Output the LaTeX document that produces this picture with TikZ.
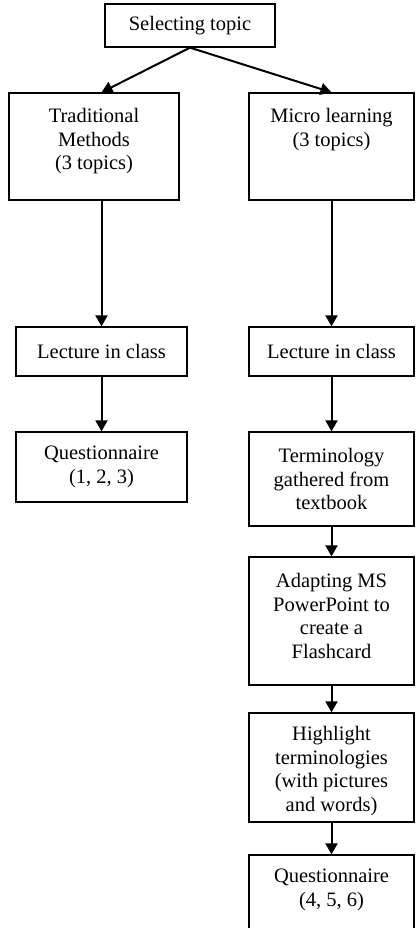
\documentclass[tikz,border=0pt]{standalone}
\usepackage{fontspec}
\setmainfont{Liberation Serif}
\usetikzlibrary{arrows.meta,calc}
\begin{document}
\begin{tikzpicture}[x=1pt,y=-1pt,
  box/.style={draw,line width=1.3pt,inner sep=0pt,align=center,
    font=\fontsize{20.5}{23.6}\selectfont},
  txt/.style={inner sep=0pt,align=center,anchor=north,
    font=\fontsize{20.5}{23.6}\selectfont},
  arr/.style={line width=2pt,-{Triangle[length=11pt,width=12pt]}}]
\fill[white] (0,0) rectangle (415,928);
\useasboundingbox (0,0) rectangle (415,928);
\clip (0,0) rectangle (415,928);
% boxes
\node[box,minimum width=170pt,minimum height=43pt] (sel) at (190,25.5) {Selecting topic};
\node[box,minimum width=170pt,minimum height=107pt] (trad) at (94,146.5) {};
\node[txt] (tradt) at (94,108) {Traditional\\Methods\\(3 topics)};
\node[box,minimum width=165pt,minimum height=107pt] (micro) at (331.5,146.5) {};
\node[txt] (microt) at (331.5,108) {Micro learning\\(3 topics)};
\node[box,minimum width=171pt,minimum height=49pt] (lectL) at (101.5,351.5) {Lecture in class};
\node[box,minimum width=165pt,minimum height=49pt] (lectR) at (331.5,351.5) {Lecture in class};
\node[box,minimum width=171pt,minimum height=70pt] (qL) at (101.5,467) {Questionnaire\\(1, 2, 3)};
\node[box,minimum width=165pt,minimum height=94pt] (term) at (331.5,479) {Terminology\\gathered from\\textbook};
\node[box,minimum width=165pt,minimum height=128pt] (adapt) at (331.5,621) {};
\node[txt] (adaptt) at (331.5,573) {Adapting MS\\PowerPoint to\\create a\\Flashcard};
\node[box,minimum width=165pt,minimum height=109pt] (high) at (331.5,767.5) {};
\node[txt] (hight) at (331.5,726) {Highlight\\terminologies\\(with pictures\\and words)};
\node[box,minimum width=165pt,minimum height=85pt] (qR) at (331.5,897.5) {};
\node[txt] (qRt) at (331.5,869) {Questionnaire\\(4, 5, 6)};
% connectors
\draw[arr] (sel.south) -- (lectL.north |- trad.north);
\draw[arr] (sel.south) -- (micro.north);
\draw[arr] (lectL.north |- trad.south) -- (lectL.north);
\draw[arr] (micro.south) -- (lectR.north);
\draw[arr] (lectL.south) -- (qL.north);
\draw[arr] (lectR.south) -- (term.north);
\draw[arr] (term.south) -- (adapt.north);
\draw[arr] (adapt.south) -- (high.north);
\draw[arr] (high.south) -- (qR.north);
\end{tikzpicture}
\end{document}
